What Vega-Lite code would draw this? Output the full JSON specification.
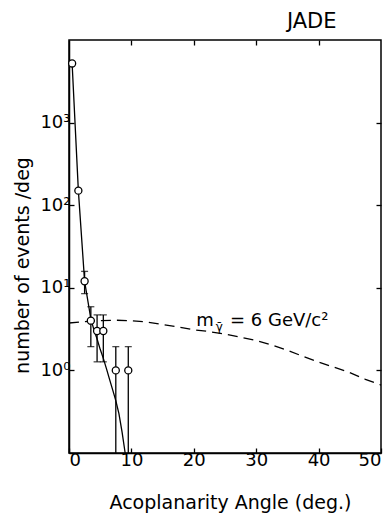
{
  "$schema": "https://vega.github.io/schema/vega-lite/v6.json",
  "width": 312,
  "height": 413,
  "autosize": {"type": "none"},
  "padding": {"left": 69, "top": 40, "right": 9, "bottom": 62},
  "background": "white",
  "config": {
    "view": {"stroke": "black", "strokeWidth": 1.5},
    "font": "DejaVu Sans",
    "axis": {
      "domainColor": "black", "domainWidth": 1.5,
      "tickColor": "black", "tickWidth": 1.3, "tickSize": -5,
      "grid": false, "labelColor": "black", "titleColor": "black",
      "labelFont": "DejaVu Sans", "titleFont": "DejaVu Sans",
      "labelFontSize": 18, "titleFontSize": 19, "titleFontWeight": "normal"
    }
  },
  "datasets": {
    "points": [
      {"angle": 0.5, "n": 5200, "lo": 5200, "hi": 5200},
      {"angle": 1.5, "n": 150, "lo": 150, "hi": 150},
      {"angle": 2.5, "n": 12, "lo": 8.5, "hi": 15.8},
      {"angle": 3.5, "n": 4.0, "lo": 1.94, "hi": 5.9},
      {"angle": 4.5, "n": 3.0, "lo": 1.27, "hi": 4.7},
      {"angle": 5.5, "n": 3.0, "lo": 1.27, "hi": 4.7},
      {"angle": 7.5, "n": 1.0, "lo": 0.1, "hi": 1.94},
      {"angle": 9.5, "n": 1.0, "lo": 0.1, "hi": 1.94}
    ],
    "fit": [
      {"angle": 0.5, "n": 5200}, {"angle": 1.5, "n": 150}, {"angle": 2.5, "n": 12},
      {"angle": 3.5, "n": 4.2}, {"angle": 4.0, "n": 3.1}, {"angle": 4.5, "n": 2.4},
      {"angle": 5.0, "n": 1.8}, {"angle": 5.5, "n": 1.4}, {"angle": 6.0, "n": 1.05},
      {"angle": 6.5, "n": 0.78}, {"angle": 7.0, "n": 0.58}, {"angle": 7.5, "n": 0.43},
      {"angle": 8.0, "n": 0.3}, {"angle": 8.5, "n": 0.18}, {"angle": 9.0, "n": 0.1}
    ],
    "model": [
      {"angle": 0, "n": 3.75}, {"angle": 2.5, "n": 3.9}, {"angle": 5, "n": 4.0},
      {"angle": 7.5, "n": 4.05}, {"angle": 10, "n": 4.0}, {"angle": 12.5, "n": 3.85},
      {"angle": 15, "n": 3.6}, {"angle": 17.5, "n": 3.35}, {"angle": 20, "n": 3.1},
      {"angle": 22.5, "n": 2.95}, {"angle": 25, "n": 2.75}, {"angle": 27.5, "n": 2.52},
      {"angle": 30, "n": 2.3}, {"angle": 32.5, "n": 2.03}, {"angle": 35, "n": 1.75},
      {"angle": 37.5, "n": 1.48}, {"angle": 40, "n": 1.26}, {"angle": 42.5, "n": 1.09},
      {"angle": 45, "n": 0.94}, {"angle": 47.5, "n": 0.78}, {"angle": 50, "n": 0.665}
    ],
    "one": [{}]
  },
  "layer": [
    {
      "layer": [
        {
          "data": {"name": "model"},
          "mark": {"type": "line", "color": "black", "strokeWidth": 1.3, "strokeDash": [10, 6]},
          "encoding": {
            "x": {
              "field": "angle", "type": "quantitative",
              "scale": {"domain": [0, 50], "nice": false, "zero": false},
              "axis": {
                "orient": "bottom", "values": [0, 10, 20, 30, 40, 50],
                "title": "Acoplanarity Angle (deg.)", "labelPadding": 3,
                "titleX": 161, "titleY": 55, "titleBaseline": "alphabetic"
              }
            },
            "y": {
              "field": "n", "type": "quantitative",
              "scale": {"type": "log", "domain": [0.1, 10000], "nice": false},
              "axis": {
                "orient": "left", "values": [1, 10, 100, 1000],
                "labelExpr": "datum.value == 1 ? '10⁰' : datum.value == 10 ? '10¹' : datum.value == 100 ? '10²' : '10³'",
                "labelPadding": 4,
                "title": "number of events /deg",
                "titleX": -41, "titleY": 225, "titleBaseline": "alphabetic"
              }
            }
          }
        },
        {
          "data": {"name": "fit"},
          "mark": {"type": "line", "color": "black", "strokeWidth": 1.3},
          "encoding": {
            "x": {"field": "angle", "type": "quantitative"},
            "y": {"field": "n", "type": "quantitative"}
          }
        },
        {
          "data": {"name": "points"},
          "mark": {"type": "rule", "color": "black", "strokeWidth": 1.3},
          "encoding": {
            "x": {"field": "angle", "type": "quantitative"},
            "y": {"field": "lo", "type": "quantitative"},
            "y2": {"field": "hi"}
          }
        },
        {
          "data": {"name": "points"},
          "transform": [{"filter": "datum.hi > datum.n"}],
          "mark": {"type": "tick", "orient": "horizontal", "color": "black", "size": 7, "thickness": 1.3},
          "encoding": {
            "x": {"field": "angle", "type": "quantitative"},
            "y": {"field": "hi", "type": "quantitative"}
          }
        },
        {
          "data": {"name": "points"},
          "transform": [{"filter": "datum.lo < datum.n && datum.lo > 0.1"}],
          "mark": {"type": "tick", "orient": "horizontal", "color": "black", "size": 7, "thickness": 1.3},
          "encoding": {
            "x": {"field": "angle", "type": "quantitative"},
            "y": {"field": "lo", "type": "quantitative"}
          }
        },
        {
          "data": {"name": "points"},
          "mark": {"type": "point", "shape": "circle", "filled": true, "fill": "white", "stroke": "black", "strokeWidth": 1.3, "size": 50, "opacity": 1},
          "encoding": {
            "x": {"field": "angle", "type": "quantitative"},
            "y": {"field": "n", "type": "quantitative"}
          }
        },
        {
          "data": {"name": "one"},
          "mark": {"type": "text", "text": "m", "align": "left", "baseline": "alphabetic", "fontSize": 18, "font": "DejaVu Sans", "color": "black"},
          "encoding": {
            "x": {"datum": 20.4},
            "y": {"datum": 3.45}
          }
        },
        {
          "data": {"name": "one"},
          "mark": {"type": "text", "text": "γ̄", "align": "left", "baseline": "alphabetic", "fontSize": 12, "font": "DejaVu Sans", "color": "black"},
          "encoding": {
            "x": {"datum": 23.5},
            "y": {"datum": 3.0}
          }
        },
        {
          "data": {"name": "one"},
          "mark": {"type": "text", "text": "= 6 GeV/c²", "align": "left", "baseline": "alphabetic", "fontSize": 18, "font": "DejaVu Sans", "color": "black"},
          "encoding": {
            "x": {"datum": 25.8},
            "y": {"datum": 3.45}
          }
        },
        {
          "data": {"name": "one"},
          "mark": {"type": "text", "text": "JADE", "align": "center", "baseline": "alphabetic", "fontSize": 21, "font": "DejaVu Sans", "color": "black"},
          "encoding": {
            "x": {"datum": 38.9},
            "y": {"datum": 13780}
          }
        }
      ]
    },
    {
      "data": {"name": "model"},
      "mark": {"type": "line", "opacity": 0},
      "encoding": {
        "x": {
          "field": "angle", "type": "quantitative",
          "axis": {"orient": "top", "values": [10, 20, 30, 40], "labels": false, "title": null, "domain": false}
        },
        "y": {
          "field": "n", "type": "quantitative",
          "axis": {"orient": "right", "values": [1, 10, 100, 1000], "labels": false, "title": null, "domain": false}
        }
      }
    }
  ],
  "resolve": {"axis": {"x": "independent", "y": "independent"}}
}
